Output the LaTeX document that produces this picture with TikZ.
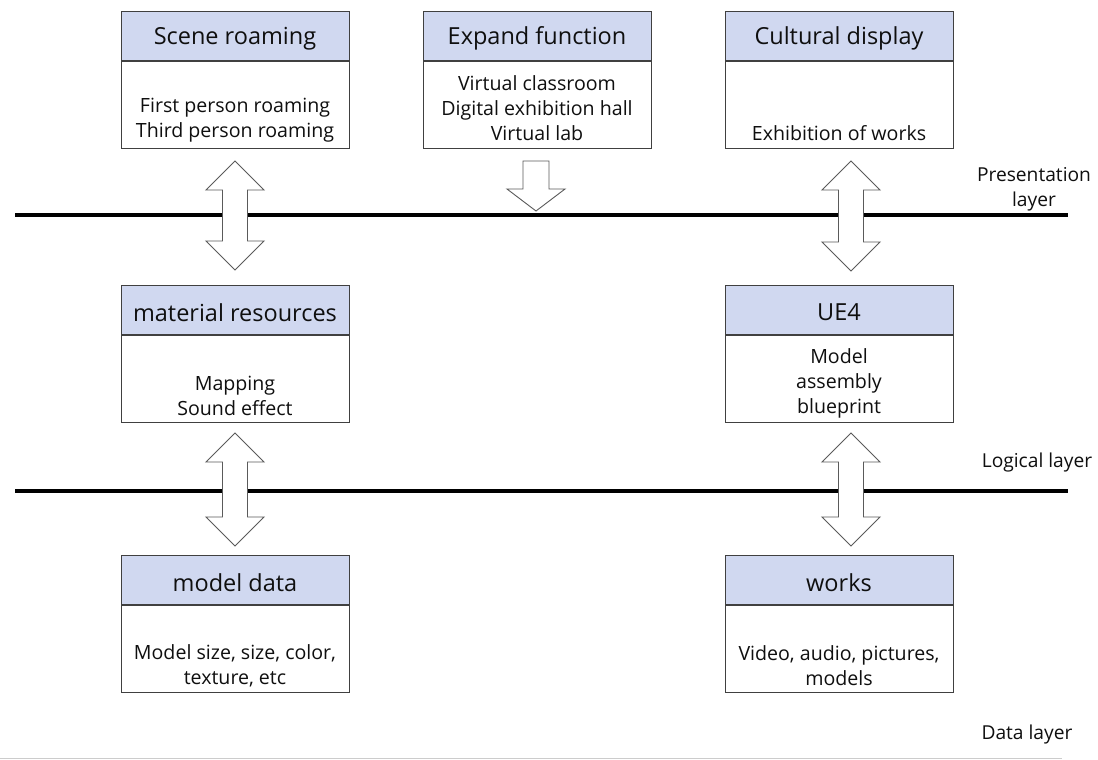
\documentclass[tikz,border=0pt]{standalone}
\usepackage{fontspec}
\setmainfont{Open Sans}
\begin{document}
\begin{tikzpicture}[x=1pt,y=-1pt,
  hdr/.style={draw=boxline, fill=hdrfill, line width=1pt, minimum width=228pt, minimum height=49pt, inner sep=0pt, anchor=north west},
  htxt/.style={font=\fontsize{23.5}{28}\selectfont, text=txt, inner sep=0pt},
  bodybox/.style={draw=boxline, line width=1pt, minimum width=228pt, minimum height=87pt, inner sep=0pt, anchor=north, text=txt},
  btxt/.style={align=center, font=\fontsize{19.6}{25}\selectfont, text=txt, inner sep=0pt},
  layer/.style={draw=black, line width=4pt},
  blockarr/.style={draw=arrline, fill=white, line width=0.9pt, line join=miter},
  lbl/.style={align=center, font=\fontsize{19.2}{25}\selectfont, text=txt, inner sep=0pt},
  dbl/.pic={\draw[blockarr] (0,0) -- (29,29) -- (12.5,29) -- (12.5,#1-29) -- (29,#1-29) -- (0,#1) -- (-29,#1-29) -- (-12.5,#1-29) -- (-12.5,29) -- (-29,29) -- cycle;},
  dnarr/.pic={\draw[blockarr] (-13,0) -- (13,0) -- (13,28) -- (29,28) -- (0,50) -- (-29,28) -- (-13,28) -- cycle;}
]
\definecolor{hdrfill}{RGB}{208,216,240}
\definecolor{boxline}{RGB}{64,64,64}
\definecolor{txt}{RGB}{15,15,15}
\definecolor{arrline}{RGB}{90,90,90}
\useasboundingbox[fill=white] (0,0) rectangle (1098,760);

% layer lines
\coordinate (l1a) at (15,214.5); \coordinate (l1b) at (1068,214.5);
\coordinate (l2a) at (15,490.5); \coordinate (l2b) at (1068,490.5);
\draw[layer] (l1a) -- (l1b);
\draw[layer] (l2a) -- (l2b);
\coordinate (l3a) at (0,758.5); \coordinate (l3b) at (1062,758.5);
\draw[draw=black!20, line width=1.5pt] (l3a) -- (l3b);

% top row
\node[hdr] (sr) at (121,11) {};
\node[htxt] (srh) at (235,38.5) {Scene roaming};
\node[bodybox] (srb) at (sr.south) {};
\node[btxt] (srt) at (235,120.5) {First person roaming\\Third person roaming};

\node[hdr] (ef) at (423,11) {};
\node[htxt] (efh) at (537,38.5) {Expand function};
\node[bodybox] (efb) at (ef.south) {};
\node[btxt] (eft) at (537,108) {Virtual classroom\\Digital exhibition hall\\Virtual lab};

\node[hdr] (cd) at (725,11) {};
\node[htxt] (cdh) at (839,38.5) {Cultural display};
\node[bodybox] (cdb) at (cd.south) {};
\node[btxt] (cdt) at (839,133) {Exhibition of works};

% middle row
\node[hdr] (mr) at (121,285) {};
\node[htxt] (mrh) at (235,312.5) {material resources};
\node[bodybox] (mrb) at (mr.south) {};
\node[btxt] (mrt) at (235,395.5) {Mapping\\Sound effect};

\node[hdr] (ue) at (725,285) {};
\node[htxt] (ueh) at (839,312.5) {UE4};
\node[bodybox] (ueb) at (ue.south) {};
\node[btxt] (uet) at (839,383) {Model\\assembly\\blueprint};

% bottom row
\node[hdr] (md) at (121,555) {};
\node[htxt] (mdh) at (235,582.5) {model data};
\node[bodybox] (mdb) at (md.south) {};
\node[btxt] (mdt) at (235,665.5) {Model size, size, color,\\texture, etc};

\node[hdr] (wk) at (725,555) {};
\node[htxt] (wkh) at (839,582.5) {works};
\node[bodybox] (wkb) at (wk.south) {};
\node[btxt] (wkt) at (839,665.5) {Video, audio, pictures,\\models};

% block arrows
\pic at (235,161) {dbl=109};
\pic at (851,161) {dbl=110};
\pic at (235,433) {dbl=113};
\pic at (851,433) {dbl=113};
\pic at (536,161) {dnarr};

% layer labels
\node[lbl] (pl) at (1034,189.5) {Presentation\\layer};
\node[lbl] (ll) at (1037,463) {Logical layer};
\node[lbl] (dl) at (1027,735) {Data layer};
\end{tikzpicture}
\end{document}
